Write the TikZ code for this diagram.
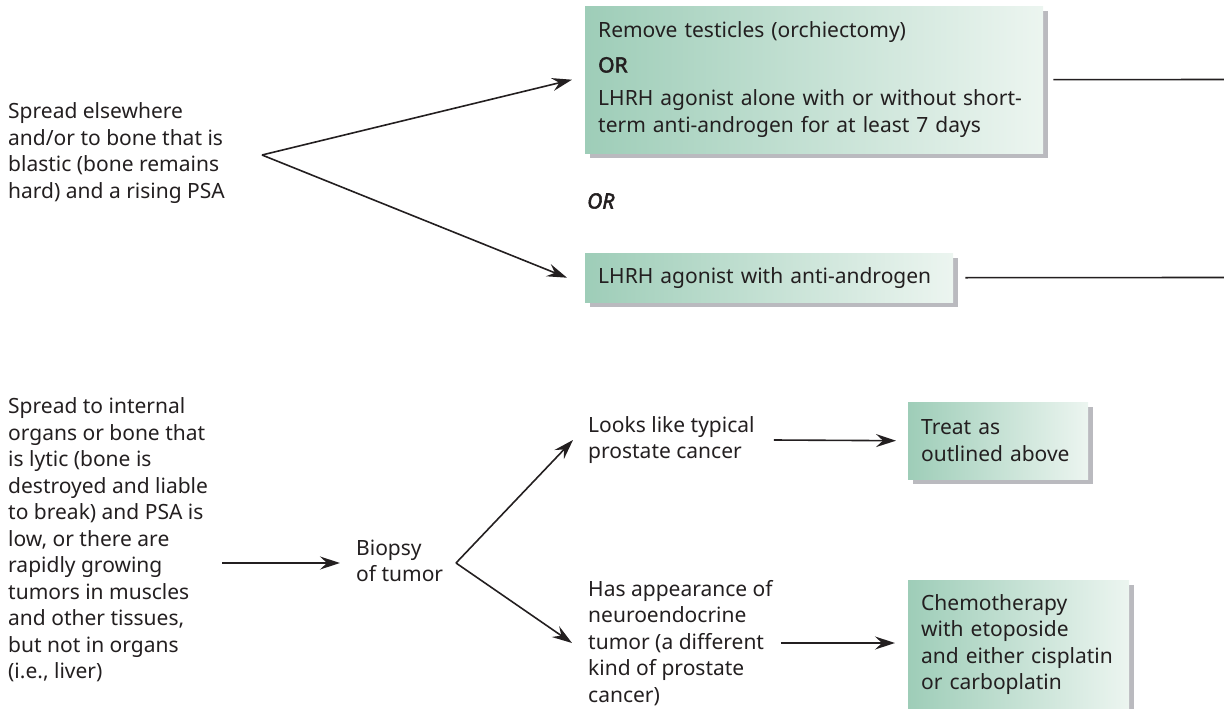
\documentclass[tikz,border=0pt]{standalone}
\usepackage{fontspec}
\setmainfont{Noto Sans}[AutoFakeBold=2.5]
\usetikzlibrary{arrows.meta,shadows}
\definecolor{greenL}{RGB}{158,205,184}
\definecolor{greenR}{RGB}{236,245,240}
\definecolor{shadowgray}{RGB}{186,186,191}
\definecolor{ink}{RGB}{35,31,32}
\begin{document}
\begin{tikzpicture}[
    x=1pt, y=-1pt,
    every node/.style={text=ink, font=\fontsize{21}{26.5}\selectfont},
    finding/.style={align=left, inner sep=0pt, anchor=west},
    therapy/.style={rectangle, anchor=north west, align=left, inner xsep=13pt,
        inner ysep=0pt, left color=greenL, right color=greenR,
        drop shadow={shadow xshift=5pt, shadow yshift=-5pt, fill=shadowgray, opacity=1}},
    arrow/.style={draw=ink, line width=1.6pt, -{Stealth[length=20pt, width=13pt, inset=7pt]}},
    link/.style={draw=ink, line width=1.6pt}
]
\clip (0,0) rectangle (1224,709);

% blastic spread
\node (Blastic) [finding] at (8,153) {Spread elsewhere\\and/or to bone that is\\blastic (bone remains\\hard) and a rising PSA};
\coordinate (Fork01) at (262,155);
\node (Orchiectomy) [therapy, minimum width=456, minimum height=147, text width=432] at (585,6)
  {Remove testicles (orchiectomy)\\[8pt]\textbf{OR}\\[7pt]LHRH agonist alone with or without short-\\term anti-androgen for at least 7 days};
\node (OrLabel) [finding] at (587,201) {\textit{\addfontfeature{FakeBold=2.5}OR}};
\node (Combined) [therapy, minimum width=368, minimum height=49, text width=342] at (585,253)
  {LHRH agonist with anti-androgen};
\coordinate (Exit01) at (1224,79.5);
\coordinate (Exit02) at (1224,277.5);

\draw [arrow] (Fork01) -- ([xshift=-13pt]Orchiectomy.west);
\draw [arrow] (Fork01) -- ([xshift=-18pt]Combined.west);
\draw [link] ([xshift=10pt]Orchiectomy.east) -- (Exit01);
\draw [link] ([xshift=12pt]Combined.east) -- (Exit02);

% lytic spread
\node (Lytic) [finding] at (8,540) {Spread to internal\\organs or bone that\\is lytic (bone is\\destroyed and liable\\to break) and PSA is\\low, or there are\\rapidly growing\\tumors in muscles\\and other tissues,\\but not in organs\\(i.e., liver)};
\coordinate (Start02) at (222,563);
\node (Biopsy) [finding] at (356,561) {Biopsy\\of tumor};
\coordinate (Fork02) at (456,563);
\node (Typical) [finding] at (588,440) {Looks like typical\\prostate cancer};
\node (Neuro) [finding] at (588,643) {Has appearance of\\neuroendocrine\\tumor (a different\\kind of prostate\\cancer)};
\node (TreatAbove) [therapy, minimum width=180, minimum height=77, text width=154] at (908,402)
  {Treat as\\outlined above};
\node (Chemo) [therapy, minimum width=221, minimum height=129, text width=195] at (908,580)
  {Chemotherapy\\with etoposide\\and either cisplatin\\or carboplatin};

\draw [arrow] (Start02) -- ([xshift=-16pt]Biopsy.west |- Start02);
\draw [arrow] (Fork02) -- ([xshift=-15pt]Typical.west);
\draw [arrow] (Fork02) -- ([xshift=-16pt]Neuro.west);
\draw [arrow] ([xshift=19pt]Typical.east) -- ([xshift=-12pt]TreatAbove.west);
\draw [arrow] ([xshift=8pt]Neuro.east) -- ([xshift=-13pt]Chemo.west |- Neuro.east);

\end{tikzpicture}
\end{document}
